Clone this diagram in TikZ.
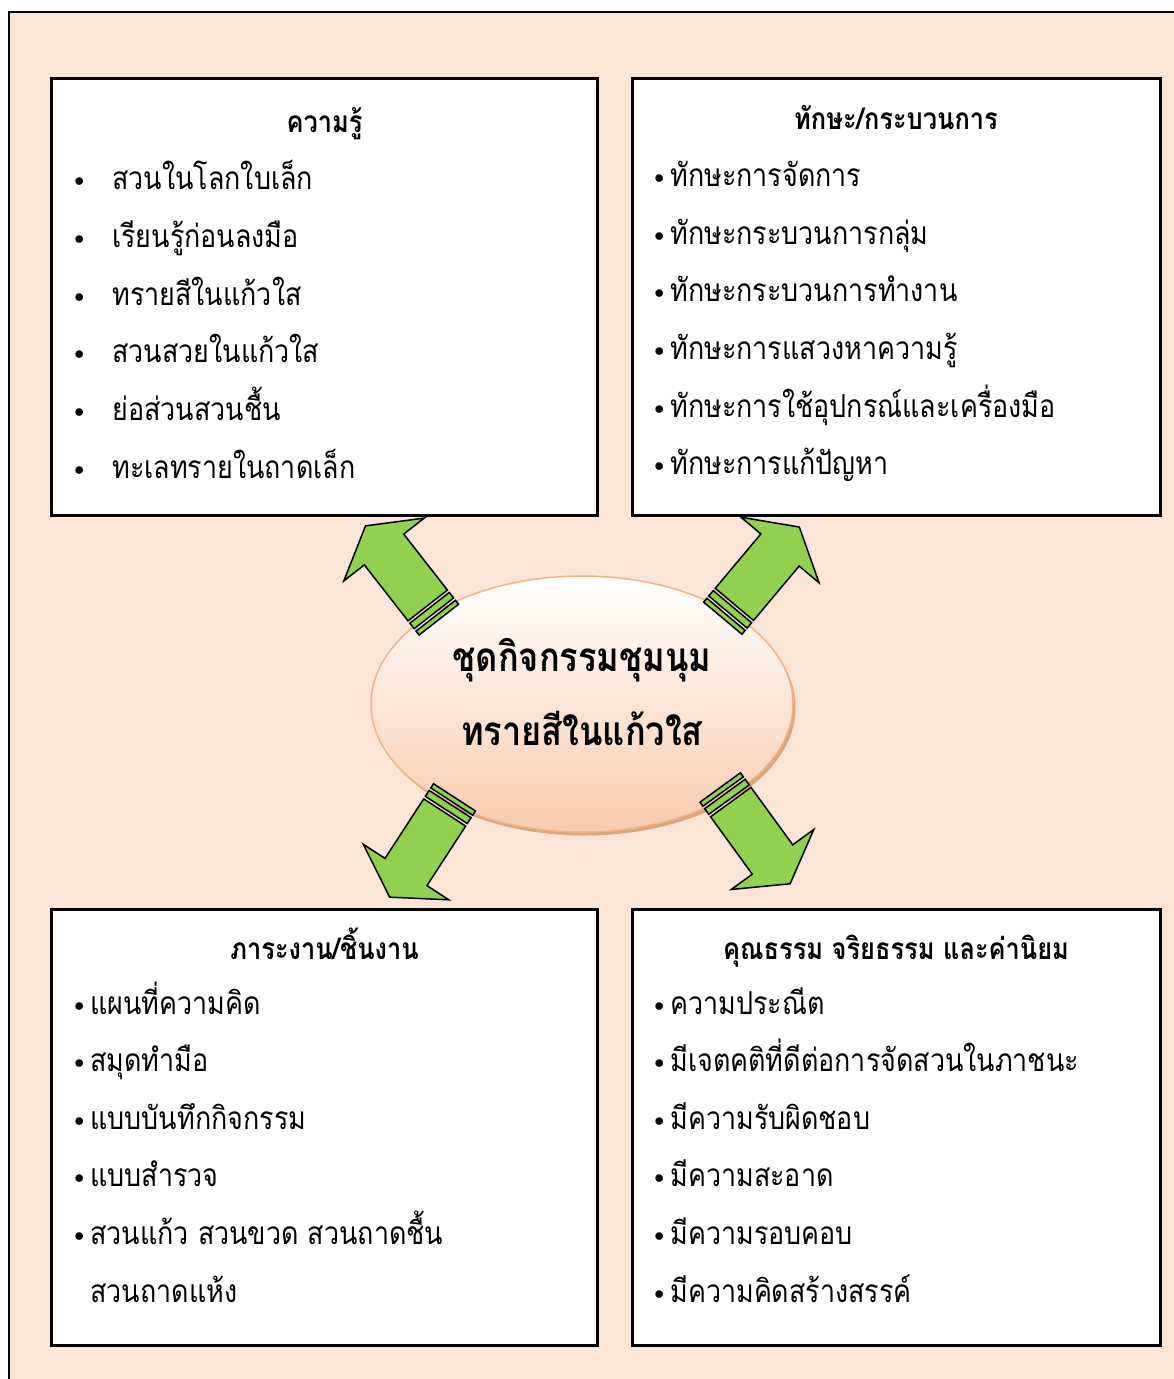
\documentclass[tikz,border=0pt]{standalone}
\usepackage{fontspec}
\usepackage{graphicx}
\usetikzlibrary{shapes.geometric,shadows}
\newfontfamily\thaifont[Script=Thai,FakeStretch=0.85]{Loma}
\newcommand\dotmark{\raisebox{0.6mm}{\scalebox{0.65}{$\bullet$}}}
\definecolor{peach}{HTML}{FBE5D6}
\definecolor{arrowgreen}{HTML}{92D050}
\definecolor{clubbottom}{HTML}{F8CBAD}
\definecolor{clubedge}{HTML}{F4B183}
\definecolor{clubshadow}{HTML}{D9A67E}
\begin{document}
\begin{tikzpicture}[x=0.2mm, y=-0.2mm,
    box/.style={draw, line width=0.6mm, fill=white, minimum width=109mm, minimum height=87.2mm, inner sep=0pt},
    title/.style={font=\thaifont\bfseries\fontsize{17}{20}\selectfont, anchor=base, inner sep=0pt},
    item/.style={font=\thaifont\fontsize{18}{20}\selectfont, anchor=base west, inner sep=0pt},
    club/.style={ellipse, draw=clubedge, line width=0.3mm, top color=white, bottom color=clubbottom,
        minimum width=84.4mm, minimum height=51.2mm,
        drop shadow={shadow xshift=0.5mm, shadow yshift=-0.7mm, fill=clubshadow, opacity=1}},
    clubtext/.style={font=\thaifont\bfseries\fontsize{23}{28}\selectfont, anchor=base, inner sep=0pt},
    bigarrow/.style={draw, line width=0.3mm, fill=arrowgreen, line join=miter}]
    \useasboundingbox (0,0) rectangle (1173,1379);
    \fill[white] (0,0) rectangle (1173,1379);
    \draw[fill=peach, line width=0.25mm] (9,12) rectangle (1200,1400);

    % the four boxes
    \node[box] (know) at (324.5,297) {};
    \node[box, minimum width=105.6mm] (skill) at (896,297) {};
    \node[box] (work) at (324.5,1127) {};
    \node[box, minimum width=105.6mm] (moral) at (896,1127) {};

    \node[title] (know-t) at (324.5,133) {ความรู้};
    \node[title] (skill-t) at (896,130) {ทักษะ/กระบวนการ};
    \node[title] (work-t) at (324.5,959) {ภาระงาน/ชิ้นงาน};
    \node[title] (moral-t) at (896,959) {คุณธรรม จริยธรรม และค่านิยม};

    \foreach \txt [count=\i] in {สวนในโลกใบเล็ก, เรียนรู้ก่อนลงมือ, ทรายสีในแก้วใส,
        สวนสวยในแก้วใส, ย่อส่วนสวนชื้น, ทะเลทรายในถาดเล็ก}
        \node[item] (know-\i) at (74,132.4+57.6*\i) {\makebox[7.6mm][l]{\dotmark}\txt};
    \foreach \txt [count=\i] in {ทักษะการจัดการ, ทักษะกระบวนการกลุ่ม, ทักษะกระบวนการทำงาน,
        ทักษะการแสวงหาความรู้, ทักษะการใช้อุปกรณ์และเครื่องมือ, ทักษะการแก้ปัญหา}
        \node[item] (skill-\i) at (654,129.5+57.5*\i) {\makebox[3.2mm][l]{\dotmark}\txt};
    \foreach \txt [count=\i] in {แผนที่ความคิด, สมุดทำมือ, แบบบันทึกกิจกรรม,
        แบบสำรวจ, สวนแก้ว สวนขวด สวนถาดชื้น}
        \node[item] (work-\i) at (74,956.4+57.6*\i) {\makebox[3.2mm][l]{\dotmark}\txt};
    \node[item] (work-6) at (90,1302) {สวนถาดแห้ง};
    \foreach \txt [count=\i] in {ความประณีต, มีเจตคติที่ดีต่อการจัดสวนในภาชนะ, มีความรับผิดชอบ,
        มีความสะอาด, มีความรอบคอบ, มีความคิดสร้างสรรค์}
        \node[item] (moral-\i) at (654,956.4+57.6*\i) {\makebox[3.2mm][l]{\dotmark}\txt};

    % centre
    \node[club] (club) at (582,704) {};
    \node[clubtext] (club-a) at (582,671) {ชุดกิจกรรมชุมนุม};
    \node[clubtext] (club-b) at (582,745) {ทรายสีในแก้วใส};

    % striped arrows, drawn from the base of the head
    \foreach \px/\py/\ang in {384/549.5/128, 780/550/50, 406/872/237, 772.5/859.5/-54}
    {
        \begin{scope}[shift={(\px,\py)}, rotate=\ang]
            \draw[bigarrow] (30,0) -- (0,51) -- (0,25) -- (-71,25) -- (-71,-25) -- (0,-25) -- (0,-51) -- cycle;
            \draw[bigarrow] (-74,25) rectangle (-81,-25);
            \draw[bigarrow] (-84,25) rectangle (-89,-25);
        \end{scope}
    }
\end{tikzpicture}
\end{document}
